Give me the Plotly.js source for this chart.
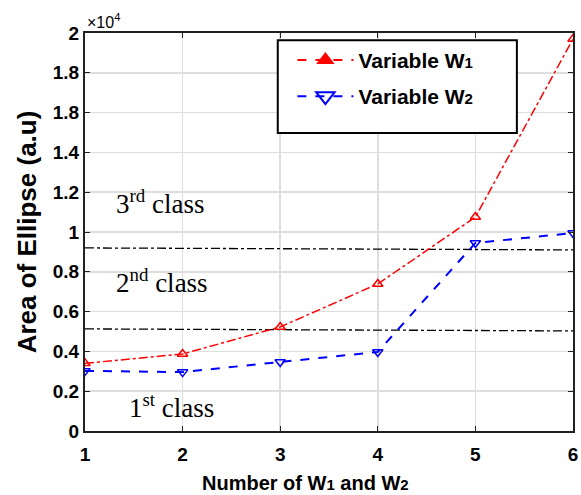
<!DOCTYPE html>
<html><head><meta charset="utf-8">
<script src="https://cdn.plot.ly/plotly-3.0.1.min.js"></script>
<style>html,body{margin:0;padding:0;background:#fff;}#chart{width:581px;height:495px;}</style>
</head><body><div id="chart"></div>
<script>
const xs = [1, 2, 3, 4, 5, 6];
const w1 = [3400, 3870, 5230, 7390, 10750, 19700];
const w2 = [3020, 2960, 3470, 3970, 9450, 9950];
const classLineX = [1, 6];
const upperClass = [9200, 9100];
const lowerClass = [5130, 5030];
const yTickVals = [0, 2000, 4000, 6000, 8000, 10000, 12000, 14000, 16000, 18000, 20000];
const yTickText = ['0', '0.2', '0.4', '0.6', '0.8', '1', '1.2', '1.4', '1.8', '1.8', '2'];
const xTickVals = [1, 2, 3, 4, 5, 6];

const traces = [
  {x: classLineX, y: upperClass, mode: 'lines', line: {color: '#000', width: 1.3, dash: 'dashdot'}, showlegend: false, hoverinfo: 'skip'},
  {x: classLineX, y: lowerClass, mode: 'lines', line: {color: '#000', width: 1.3, dash: 'dashdot'}, showlegend: false, hoverinfo: 'skip'},
  {x: xs, y: w1, mode: 'lines+markers', line: {color: '#ff0000', width: 1.5, dash: 'dashdot'},
   marker: {symbol: 'triangle-up-open', size: 9, color: '#ff0000', line: {width: 1.5, color: '#ff0000'}}, showlegend: false},
  {x: xs, y: w2, mode: 'lines+markers', line: {color: '#0000ff', width: 2, dash: 'dash'},
   marker: {symbol: 'triangle-down-open', size: 9, color: '#0000ff', line: {width: 1.5, color: '#0000ff'}}, showlegend: false},
  {x: [null], y: [null], mode: 'lines+markers', name: 'Variable W<span style="font-size:15px">1</span>', legendgroup: 'a',
   line: {color: '#ff0000', width: 2, dash: 'dash'}, marker: {symbol: 'triangle-up', size: 18, color: '#ff0000'}},
  {x: [null], y: [null], mode: 'lines+markers', name: 'Variable W<span style="font-size:15px">2</span>', legendgroup: 'b',
   line: {color: '#0000ff', width: 2, dash: 'dash'}, marker: {symbol: 'triangle-down-open', size: 18, color: '#0000ff', line: {width: 2, color: '#0000ff'}}}
];

const tickFont = {family: 'Liberation Sans, Arial, sans-serif', size: 19, color: '#000', weight: 'bold'};
const classFont = {family: 'Liberation Serif, Times New Roman, serif', size: 27, color: '#000'};

const layout = {
  width: 581, height: 495,
  margin: {l: 85, r: 8, t: 33, b: 64},
  paper_bgcolor: '#fff', plot_bgcolor: '#fff',
  showlegend: true,
  legend: {x: 0.425, y: 0.983, xanchor: 'left', yanchor: 'top', bgcolor: 'rgba(0,0,0,0)', borderwidth: 0,
    font: {family: 'Liberation Sans, Arial, sans-serif', size: 21, color: '#000', weight: 'bold'}, itemwidth: 56, tracegroupgap: 6},
  shapes: [
    {type: 'rect', xref: 'paper', yref: 'paper', x0: 0.395, x1: 0.885, y0: 0.749, y1: 0.982,
     line: {color: '#000', width: 2}, fillcolor: '#fff', layer: 'above'}
  ],
  xaxis: {range: [1, 6], tickvals: xTickVals, ticktext: xTickVals.map(String), tickfont: tickFont, ticklabelstandoff: 5,
    showgrid: true, gridcolor: '#dedede', gridwidth: 1.5, zeroline: false,
    showline: true, linecolor: '#222', linewidth: 2, mirror: 'ticks', ticks: 'inside', ticklen: 5, tickcolor: '#222'},
  yaxis: {range: [0, 20000], tickvals: yTickVals, ticktext: yTickText, tickfont: tickFont,
    showgrid: true, gridcolor: '#dedede', gridwidth: 1.5, zeroline: false,
    showline: true, linecolor: '#222', linewidth: 2, mirror: 'ticks', ticks: 'inside', ticklen: 5, tickcolor: '#222',
    title: {text: 'Area of Ellipse (a.u)', font: {family: 'Liberation Sans, Arial, sans-serif', size: 26, color: '#000', weight: 'bold'}, standoff: 9}},
  annotations: [
    {xref: 'paper', yref: 'paper', x: 0, y: 1, xanchor: 'left', yanchor: 'bottom', yshift: 0, showarrow: false,
     text: '\u00d710<sup>4</sup>', font: {family: 'Liberation Sans, Arial, sans-serif', size: 16, color: '#000'}},
    {xref: 'paper', yref: 'paper', x: 0.451, y: 0, xanchor: 'center', yanchor: 'middle', yshift: -52, showarrow: false,
     text: 'Number of W<span style="font-size:15px">1</span> and W<span style="font-size:15px">2</span>',
     font: {family: 'Liberation Sans, Arial, sans-serif', size: 20, color: '#000', weight: 'bold'}},
    {xref: 'x', yref: 'y', x: 1.3, y: 11500, xanchor: 'left', yanchor: 'middle', showarrow: false, text: '3<sup>rd</sup> class', font: classFont},
    {xref: 'x', yref: 'y', x: 1.3, y: 7550, xanchor: 'left', yanchor: 'middle', showarrow: false, text: '2<sup>nd</sup> class', font: classFont},
    {xref: 'x', yref: 'y', x: 1.43, y: 1250, xanchor: 'left', yanchor: 'middle', showarrow: false, text: '1<sup>st</sup> class', font: classFont}
  ]
};

Plotly.newPlot('chart', traces, layout, {displayModeBar: false, staticPlot: true});
</script>
</body></html>
